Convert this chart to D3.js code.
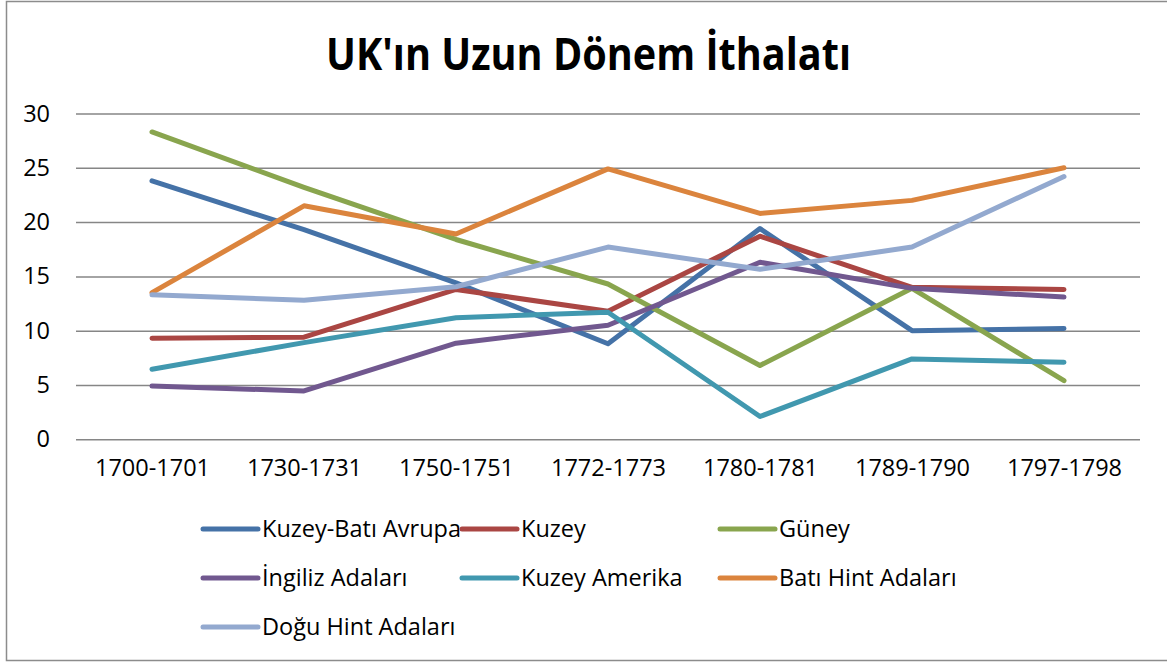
<!DOCTYPE html>
<html>
<head>
<meta charset="utf-8">
<script src="https://cdn.jsdelivr.net/npm/d3@7"></script>
<style>
  html, body { margin: 0; padding: 0; background: #fff; }
  svg { display: block; font-family: "Open Sans", sans-serif; }
</style>
</head>
<body>
<div id="chart"></div>
<script>
// periods on the x axis
const categories = ['1700-1701', '1730-1731', '1750-1751', '1772-1773', '1780-1781', '1789-1790', '1797-1798'];

// series names, in legend order
const seriesNames = ['Kuzey-Batı Avrupa', 'Kuzey', 'Güney', 'İngiliz Adaları', 'Kuzey Amerika', 'Batı Hint Adaları', 'Doğu Hint Adaları'];

// values (%)
const kuzeyBatiAvrupa = [23.8, 19.3, 14.4, 8.8, 19.4, 10.0, 10.2];
const kuzey           = [9.3, 9.4, 13.8, 11.8, 18.7, 14.0, 13.8];
const guney           = [28.3, 23.2, 18.4, 14.3, 6.8, 13.9, 5.4];
const ingilizAdalari  = [4.9, 4.45, 8.85, 10.5, 16.3, 13.9, 13.1];
const kuzeyAmerika    = [6.45, 8.9, 11.2, 11.7, 2.1, 7.4, 7.1];
const batiHintAdalari = [13.5, 21.5, 18.9, 24.9, 20.8, 22.0, 25.0];
const doguHintAdalari = [13.3, 12.8, 14.05, 17.7, 15.65, 17.7, 24.2];

const yTicks = [0, 5, 10, 15, 20, 25, 30];
const colors = ['#4572A7', '#AA4643', '#89A54E', '#71588F', '#4198AF', '#DB843D', '#93A9CF'];

const allSeries = [kuzeyBatiAvrupa, kuzey, guney, ingilizAdalari, kuzeyAmerika, batiHintAdalari, doguHintAdalari]
    .map((values, i) => ({ name: seriesNames[i], values, color: colors[i] }));

const width = 1167, height = 662;
const plot = { left: 76, right: 1140, top: 113.5, bottom: 439.3 };
const labelSize = 23.5;

const svg = d3.select('#chart')
    .append('svg')
    .attr('width', width)
    .attr('height', height);

// outer chart border
svg.append('rect')
    .attr('x', 6.5).attr('y', 1.5)
    .attr('width', 1175).attr('height', 659)
    .attr('fill', '#fff')
    .attr('stroke', '#8c8c8c')
    .attr('stroke-width', 1.5);

// title
svg.append('text')
    .attr('x', 588.5).attr('y', 70)
    .attr('text-anchor', 'middle')
    .attr('font-weight', 'bold')
    .attr('font-size', 44)
    .attr('textLength', 525)
    .attr('lengthAdjust', 'spacingAndGlyphs')
    .attr('fill', '#000')
    .text("UK'ın Uzun Dönem İthalatı");

const x = d3.scalePoint()
    .domain(categories)
    .range([plot.left, plot.right])
    .padding(0.5);

const y = d3.scaleLinear()
    .domain([0, 30])
    .range([plot.bottom, plot.top]);

// gridlines + y labels
const yAxis = d3.axisLeft(y)
    .tickValues(yTicks)
    .tickSize(-(plot.right - plot.left))
    .tickPadding(26);

svg.append('g')
    .attr('transform', `translate(${plot.left},0)`)
    .call(yAxis)
    .call(g => g.select('.domain').remove())
    .call(g => g.selectAll('.tick line').attr('stroke', '#868686').attr('stroke-width', 1.5))
    .call(g => g.selectAll('.tick text')
        .attr('font-size', labelSize)
        .attr('font-family', '"Open Sans", sans-serif')
        .attr('fill', '#000'));

// x labels
const xAxis = d3.axisBottom(x).tickSize(0).tickPadding(20);
svg.append('g')
    .attr('transform', `translate(0,${plot.bottom})`)
    .call(xAxis)
    .call(g => g.select('.domain').remove())
    .call(g => g.selectAll('.tick text')
        .attr('font-size', labelSize)
        .attr('font-family', '"Open Sans", sans-serif')
        .attr('fill', '#000'));

// lines
const line = d3.line()
    .x((d, i) => x(categories[i]))
    .y(d => y(d));

svg.append('g')
    .selectAll('path')
    .data(allSeries)
    .join('path')
    .attr('d', d => line(d.values))
    .attr('fill', 'none')
    .attr('stroke', d => d.color)
    .attr('stroke-width', 5)
    .attr('stroke-linejoin', 'round')
    .attr('stroke-linecap', 'round');

// legend, 3 columns
const legendCols = [203, 462, 720];
const legendRows = [529, 578, 627];

const legend = svg.append('g')
    .selectAll('g')
    .data(allSeries)
    .join('g')
    .attr('transform', (d, i) => `translate(${legendCols[i % 3]},${legendRows[Math.floor(i / 3)]})`);

legend.append('line')
    .attr('x1', 0).attr('x2', 55)
    .attr('stroke', d => d.color)
    .attr('stroke-width', 5)
    .attr('stroke-linecap', 'round');

legend.append('text')
    .attr('x', 59)
    .attr('dy', '0.35em')
    .attr('font-size', labelSize)
    .attr('fill', '#000')
    .text(d => d.name);
</script>
</body>
</html>
